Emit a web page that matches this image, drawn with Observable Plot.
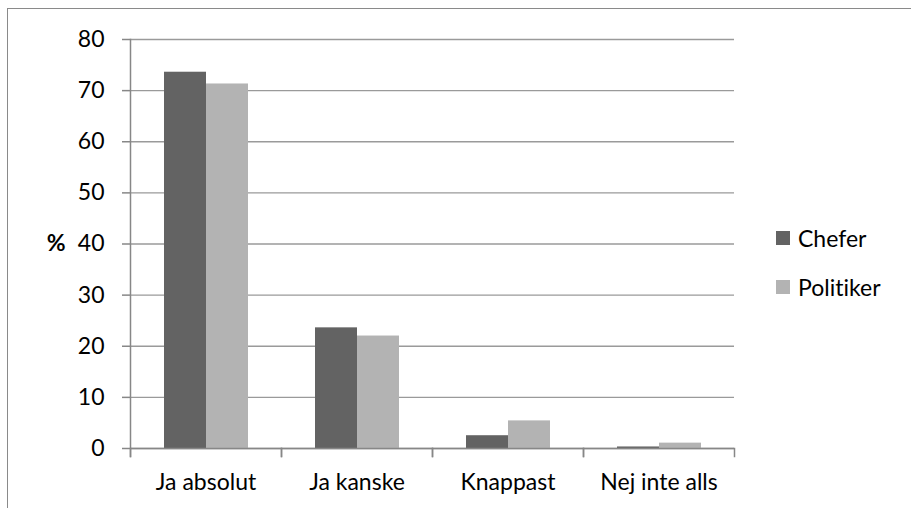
<!DOCTYPE html>
<html>
<head>
<meta charset="utf-8">
<script src="https://cdn.jsdelivr.net/npm/d3@7"></script>
<script src="https://cdn.jsdelivr.net/npm/@observablehq/plot@0.6"></script>
<style>
  html, body { margin: 0; padding: 0; background: #fff; }
  #wrap { position: relative; width: 911px; height: 508px; overflow: hidden; }
  #border { position: absolute; left: 7px; top: 8px; width: 1000px; height: 1000px;
            border-top: 1.5px solid #8a8a8a; border-left: 1.5px solid #8a8a8a; pointer-events: none; }
  #legend { position: absolute; left: 776px; top: 226px; font-family: Lato, sans-serif; font-size: 23px; color: #000;
            font-variant-ligatures: none; font-feature-settings: "liga" 0; }
  .item { display: flex; align-items: center; height: 24px; margin-bottom: 24.6px; }
  .sw { width: 14px; height: 14px; margin-right: 8px; }
  svg text { font-variant-ligatures: none; font-feature-settings: "liga" 0; }
</style>
</head>
<body>
<div id="wrap">
  <div id="chart"></div>
  <div id="legend"></div>
  <div id="border"></div>
</div>
<script>
const categories = ["Ja absolut", "Ja kanske", "Knappast", "Nej inte alls"];
const series = ["Chefer", "Politiker"];
const chefer = [73.6, 23.6, 2.5, 0.3];
const politiker = [71.3, 22.0, 5.4, 1.05];
const yTicks = [0, 10, 20, 30, 40, 50, 60, 70, 80];
const colors = ["#636363", "#b3b3b3"];
const yLabel = "%";

const W = 911, H = 508, mt = 39, mb = 60, ml = 129, mr = 177;
const axisColor = "#878787";

const data = categories.flatMap((c, i) => [
  {cat: c, s: series[0], v: chefer[i]},
  {cat: c, s: series[1], v: politiker[i]}
]);

const chart = Plot.plot({
  width: W, height: H,
  marginTop: mt, marginBottom: mb, marginLeft: ml, marginRight: mr,
  style: {fontFamily: "Lato, sans-serif", fontSize: "23px", color: "#000", background: "transparent"},
  fx: {domain: categories, padding: 0, label: null},
  x: {domain: series, paddingInner: 0, paddingOuter: 0.76, axis: null},
  y: {domain: [0, 80], axis: null},
  color: {domain: series, range: colors},
  marks: [
    Plot.gridY(yTicks, {stroke: "#9a9a9a", strokeOpacity: 1, strokeWidth: 1.4}),
    Plot.barY(data, {fx: "cat", x: "s", y: "v", fill: "s"}),
    Plot.ruleY([0], {stroke: axisColor, strokeWidth: 1.5}),
    Plot.frame({anchor: "left", facetAnchor: "left", insetBottom: -8, stroke: axisColor, strokeWidth: 1.5}),
    Plot.frame({anchor: "left", insetTop: H - mt - mb, insetBottom: -8, stroke: axisColor, strokeWidth: 1.5}),
    Plot.frame({anchor: "right", insetTop: H - mt - mb, insetBottom: -8, stroke: axisColor, strokeWidth: 1.5}),
    Plot.axisY(yTicks, {tickSize: 8, tickPadding: 18, stroke: axisColor, strokeWidth: 1.5, label: null, fill: "#000"}),
    Plot.axisFx({anchor: "bottom", tickSize: 0, tickPadding: 25, label: null, fill: "#000"}),
    Plot.text([yLabel], {frameAnchor: "left", facetAnchor: "left", textAnchor: "end", dx: -65, fontWeight: "bold", fill: "#000"})
  ]
});
document.getElementById("chart").appendChild(chart);

const legend = document.getElementById("legend");
series.forEach((s, i) => {
  const it = document.createElement("div");
  it.className = "item";
  it.innerHTML = `<div class="sw" style="background:${colors[i]}"></div><span>${s}</span>`;
  legend.appendChild(it);
});
</script>
</body>
</html>
